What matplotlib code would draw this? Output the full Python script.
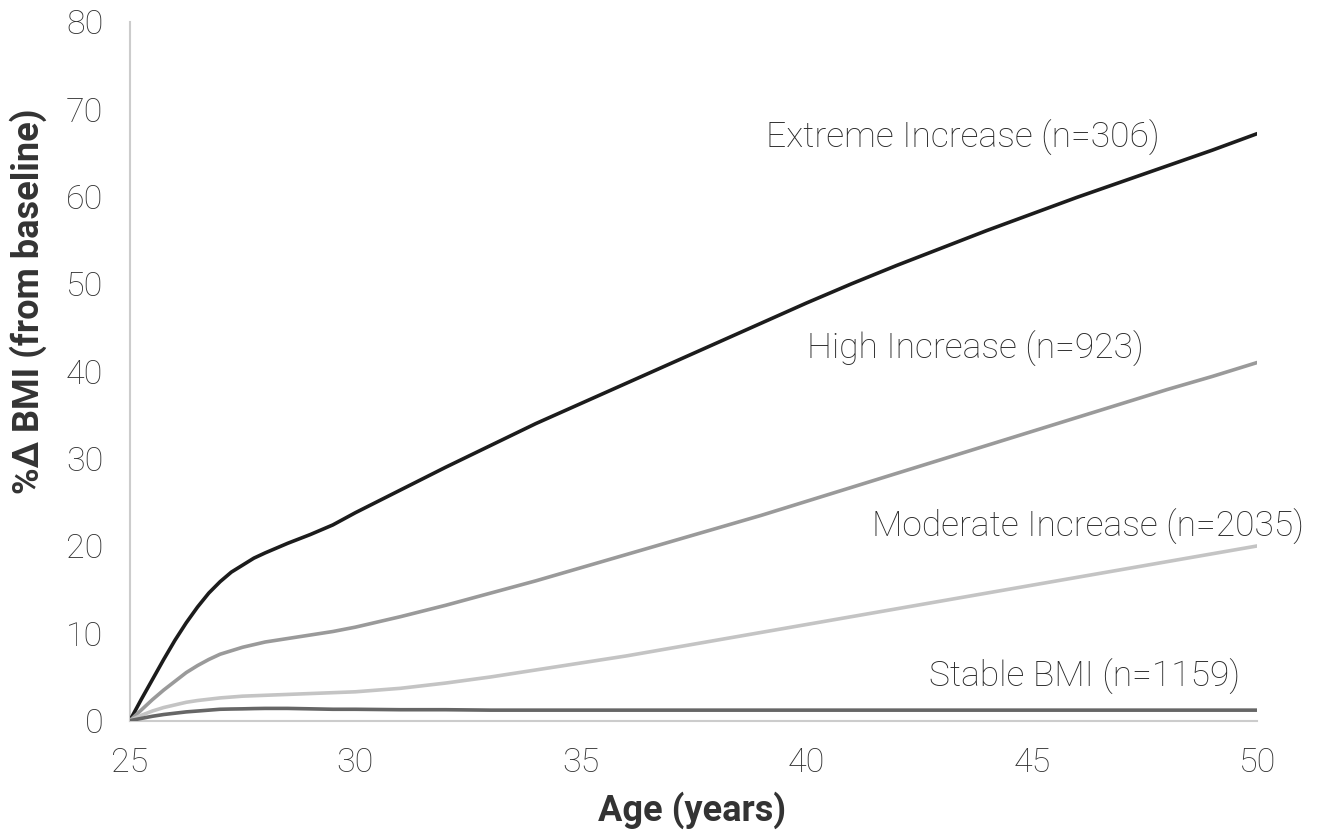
"""BMI trajectory groups — % change in BMI from baseline by age"""

import matplotlib
matplotlib.use("Agg")
import matplotlib.pyplot as plt

# ── data ──
age = [25, 25.25, 25.5, 25.75, 26, 26.25, 26.5, 26.75, 27, 27.25, 27.5, 27.75, 28,
       28.5, 29, 29.5, 30, 31, 32, 33, 34, 35, 36, 37, 38, 39, 40, 41, 42, 43, 44,
       45, 46, 47, 48, 49, 50]

extreme = [0, 2.4, 4.7, 7.0, 9.2, 11.2, 13.0, 14.6, 15.9, 17.0, 17.8, 18.6, 19.2,
           20.3, 21.3, 22.4, 23.8, 26.4, 29.0, 31.5, 34.0, 36.3, 38.6, 40.9, 43.2,
           45.5, 47.8, 50.0, 52.1, 54.1, 56.1, 58.0, 59.9, 61.7, 63.5, 65.3, 67.2]
high = [0, 1.2, 2.4, 3.5, 4.5, 5.5, 6.3, 7.0, 7.6, 8.0, 8.4, 8.7, 9.0, 9.4, 9.8,
        10.2, 10.7, 11.9, 13.2, 14.6, 16.0, 17.5, 19.0, 20.5, 22.0, 23.5, 25.1,
        26.7, 28.3, 29.9, 31.5, 33.1, 34.7, 36.3, 37.9, 39.4, 41.0]
moderate = [0, 0.6, 1.1, 1.5, 1.8, 2.1, 2.3, 2.45, 2.6, 2.7, 2.8, 2.85, 2.9, 3.0,
            3.1, 3.2, 3.3, 3.7, 4.3, 5.0, 5.8, 6.6, 7.4, 8.3, 9.2, 10.1, 11.0, 11.9,
            12.8, 13.7, 14.6, 15.5, 16.4, 17.3, 18.2, 19.1, 20.0]
stable = [0, 0.25, 0.5, 0.7, 0.85, 1.0, 1.1, 1.2, 1.3, 1.33, 1.35, 1.38, 1.4, 1.4,
          1.35, 1.3, 1.3, 1.25, 1.25, 1.2, 1.2, 1.2, 1.2, 1.2, 1.2, 1.2, 1.2, 1.2,
          1.2, 1.2, 1.2, 1.2, 1.2, 1.2, 1.2, 1.2, 1.2]

labels = ["Extreme Increase (n=306)", "High Increase (n=923)",
          "Moderate Increase (n=2035)", "Stable BMI (n=1159)"]
x_ticks = [25, 30, 35, 40, 45, 50]
y_ticks = [0, 10, 20, 30, 40, 50, 60, 70, 80]

plt.rcParams["font.family"] = ["Roboto", "DejaVu Sans"]

fig = plt.figure(figsize=(13.25, 8.36), dpi=100)
ax = fig.add_axes([0.098, 0.138, 0.851, 0.836])

series = [extreme, high, moderate, stable]
colors = ["#1c1c1c", "#9a9a9a", "#c4c4c4", "#666666"]
for vals, c in zip(series, colors):
    ax.plot(age, vals, color=c, linewidth=2.6, solid_capstyle="butt", zorder=3)

# labels next to each curve
label_pos = [(43.46, 66.7), (43.74, 42.5), (46.25, 22.2), (46.16, 5.0)]
for txt, (lx, ly) in zip(labels, label_pos):
    ax.text(lx, ly, txt, ha="center", va="center", fontsize=25.5,
            fontweight="light", color="#2a2a2a")

ax.set_xlim(25, 50)
ax.set_ylim(0, 80)
ax.set_xticks(x_ticks)
ax.set_yticks(y_ticks)
ax.tick_params(length=0, pad=19, labelsize=24.5, labelcolor="#333333")
for t in ax.get_xticklabels() + ax.get_yticklabels():
    t.set_fontweight("light")

for s in ["top", "right"]:
    ax.spines[s].set_visible(False)
for s in ["left", "bottom"]:
    ax.spines[s].set_color("#cccccc")
    ax.spines[s].set_linewidth(1.5)

ax.set_xlabel("Age (years)", fontsize=26, fontweight="bold", color="#333333",
              va="center")
ax.set_ylabel("%\u0394 BMI (from baseline)", fontsize=26, fontweight="bold",
              color="#333333", va="center")
ax.xaxis.set_label_coords(0.499, -0.128)
ax.yaxis.set_label_coords(-0.0905, 0.6)

plt.savefig("out.png", dpi=100)
print("Done: out.png")
